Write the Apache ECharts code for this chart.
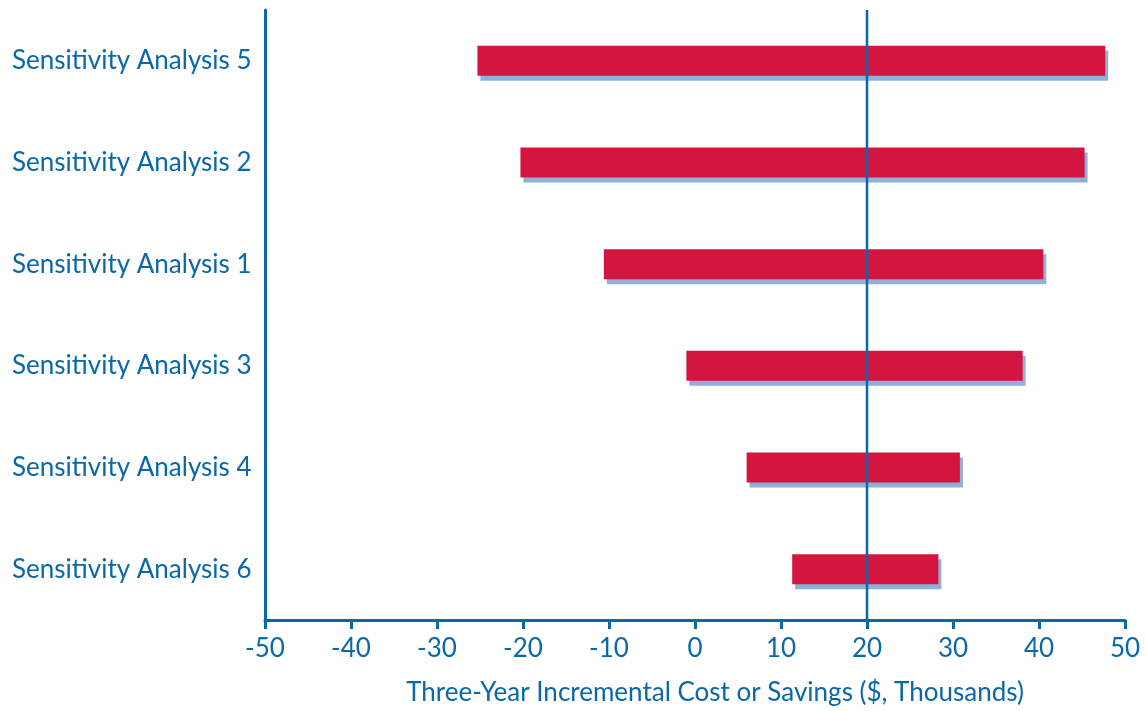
<!DOCTYPE html>
<html>
<head>
<meta charset="utf-8">
<script src="https://cdn.jsdelivr.net/npm/echarts@6/dist/echarts.min.js"></script>
<style>html,body{margin:0;padding:0;background:#fff;}#c{width:1146px;height:711px;}</style>
</head>
<body>
<div id="c"></div>
<script>
var categories = ['Sensitivity Analysis 5','Sensitivity Analysis 2','Sensitivity Analysis 1','Sensitivity Analysis 3','Sensitivity Analysis 4','Sensitivity Analysis 6'];
var lowValues = [-25.3, -20.3, -10.6, -1.0, 6.0, 11.3];
var highValues = [47.7, 45.3, 40.5, 38.1, 30.8, 28.3];
var baseValue = 20;
var axisTitle = 'Three-Year Incremental Cost or Savings ($, Thousands)';

var blue = '#0A67A8';
var font = 'Lato';
var fs = 26;
var data = categories.map(function (c, i) { return [lowValues[i], i, highValues[i]]; });

var chart = echarts.init(document.getElementById('c'));
chart.setOption({
  animation: false,
  grid: { left: 265, right: 21, top: 10, bottom: 89, containLabel: false },
  xAxis: {
    type: 'value', min: -50, max: 50, interval: 10,
    axisLine: { show: true, onZero: false, lineStyle: { color: blue, width: 3 } },
    axisTick: { show: true, length: 9, lineStyle: { color: blue, width: 3 } },
    splitLine: { show: false },
    axisLabel: { color: blue, fontSize: fs, fontFamily: font, margin: 16 },
    name: axisTitle, nameLocation: 'middle', nameGap: 60,
    nameTextStyle: { color: blue, fontSize: fs, fontFamily: font, padding: [0, 0, 0, 40] }
  },
  yAxis: {
    type: 'category', data: categories, inverse: true,
    axisLine: { show: true, onZero: false, lineStyle: { color: blue, width: 3 } },
    axisTick: { show: false },
    axisLabel: { color: blue, fontSize: fs, fontFamily: font, align: 'left', margin: 253 }
  },
  series: [{
    type: 'custom',
    data: data,
    encode: { x: [0, 2], y: 1 },
    renderItem: function (params, api) {
      var lo = api.coord([api.value(0), api.value(1)]);
      var hi = api.coord([api.value(2), api.value(1)]);
      var h = 30;
      return {
        type: 'group',
        children: [
          { type: 'rect', shape: { x: lo[0] + 3, y: lo[1] - h / 2 + 5, width: hi[0] - lo[0], height: h }, style: { fill: '#8FB0D8' } },
          { type: 'rect', shape: { x: lo[0], y: lo[1] - h / 2, width: hi[0] - lo[0], height: h }, style: { fill: '#D4153F' } }
        ]
      };
    },
    z: 2
  }, {
    type: 'custom',
    data: [[baseValue, 0]],
    encode: { x: 0, y: 1 },
    renderItem: function (params, api) {
      var p = api.coord([api.value(0), api.value(1)]);
      var cs = params.coordSys;
      return {
        type: 'line',
        shape: { x1: p[0], y1: cs.y, x2: p[0], y2: cs.y + cs.height },
        style: { stroke: blue, lineWidth: 2.5 }
      };
    },
    z: 3
  }]
});
</script>
</body>
</html>
